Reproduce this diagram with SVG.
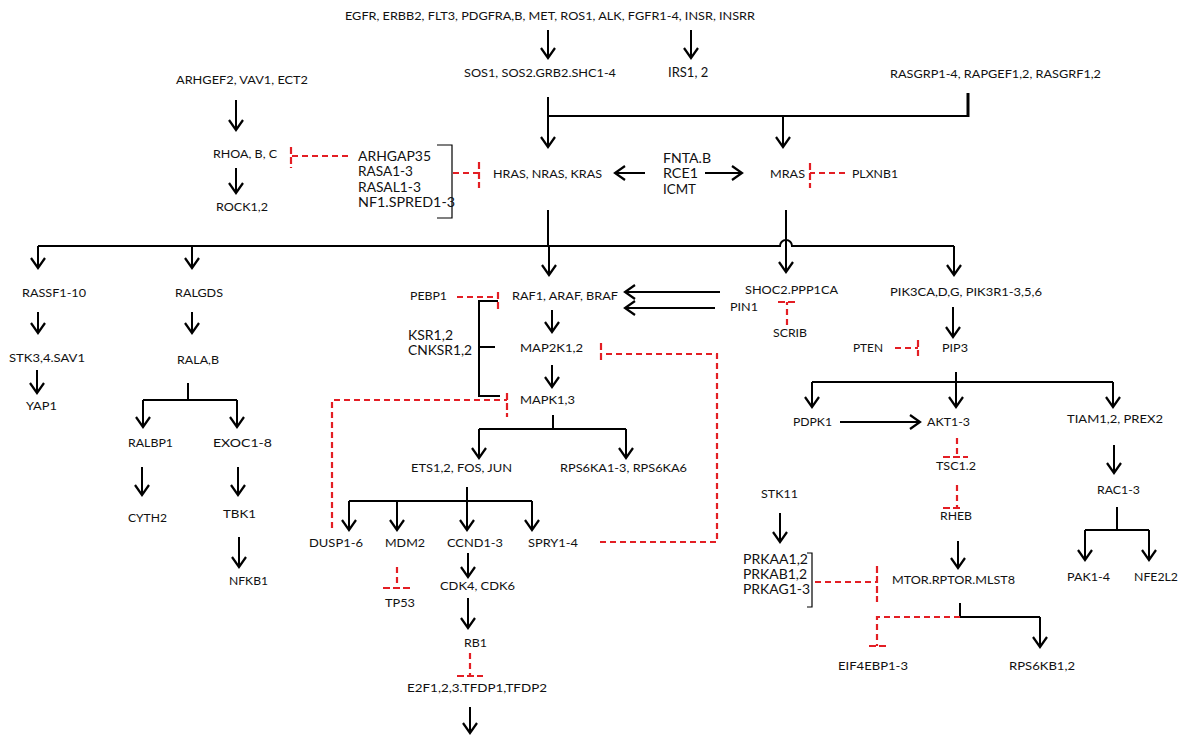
<svg xmlns="http://www.w3.org/2000/svg" width="1183" height="736" viewBox="0 0 1183 736">
<defs>
<marker id="arr" markerUnits="userSpaceOnUse" markerWidth="24" markerHeight="24" refX="0" refY="0" viewBox="-12 -12 24 24" orient="auto" overflow="visible">
<path d="M-10,-7 L0,0 L-10,7" fill="none" stroke="#000" stroke-width="2.2" stroke-linejoin="miter"/>
</marker>
<style>
text{font-family:Lato,"Liberation Sans",sans-serif;font-size:12px;fill:#111;dominant-baseline:central}
.L{font-size:14px}
.c{fill:none;stroke:#000;stroke-width:2}
.a{fill:none;stroke:#000;stroke-width:2;marker-end:url(#arr)}
.b{fill:none;stroke:#000;stroke-width:1.2}
.r{fill:none;stroke:#e31e24;stroke-width:2.2;stroke-dasharray:6 4}
.t{fill:none;stroke:#e31e24;stroke-width:2.2;stroke-dasharray:7 3}
</style>
</defs>
<rect width="1183" height="736" fill="#fff"/>

<g id="connectors">
<line class="a" x1="548" y1="30" x2="548" y2="58"/>
<line class="a" x1="691" y1="30" x2="691" y2="58"/>
<path class="c" d="M548,97 V116 H968"/>
<line class="a" x1="548" y1="116" x2="548" y2="147"/>
<line x1="968" y1="93" x2="968" y2="117" stroke="#000" stroke-width="3"/>
<line class="a" x1="783" y1="116" x2="783" y2="147"/>
<line class="a" x1="236" y1="100" x2="236" y2="130"/>
<line class="a" x1="236" y1="168" x2="236" y2="193"/>
<line class="a" x1="645" y1="173" x2="615" y2="173"/>
<line class="a" x1="705" y1="173" x2="742" y2="173"/>
<line class="c" x1="548" y1="210" x2="548" y2="246"/>
<path class="c" d="M38,246 H780 a6,6 0 0 1 12,0 H954"/>
<line class="c" x1="786" y1="210" x2="786" y2="240"/>
<line class="a" x1="786" y1="240" x2="786" y2="272"/>
<line class="a" x1="38" y1="246" x2="38" y2="268"/>
<line class="a" x1="192" y1="246" x2="192" y2="268"/>
<line class="a" x1="549" y1="246" x2="549" y2="275"/>
<line class="a" x1="954" y1="246" x2="954" y2="275"/>
<line class="a" x1="38" y1="312" x2="38" y2="333"/>
<line class="a" x1="37" y1="370" x2="37" y2="393"/>
<line class="a" x1="192" y1="312" x2="192" y2="333"/>
<path class="c" d="M188,383 V400 M143,400 H237"/>
<line class="a" x1="143" y1="400" x2="143" y2="427"/>
<line class="a" x1="237" y1="400" x2="237" y2="427"/>
<line class="a" x1="142" y1="467" x2="142" y2="495"/>
<line class="a" x1="238" y1="467" x2="238" y2="495"/>
<line class="a" x1="239" y1="537" x2="239" y2="567"/>
<path class="c" d="M498,301 H479 V396 H500 M479,347 H495"/>
<line class="a" x1="552" y1="310" x2="552" y2="332"/>
<line class="a" x1="552" y1="365" x2="552" y2="387"/>
<path class="c" d="M553,415 V429 M479,429 H626"/>
<line class="a" x1="479" y1="429" x2="479" y2="458"/>
<line class="a" x1="626" y1="429" x2="626" y2="458"/>
<path class="c" d="M467,487 V501 M349,501 H532"/>
<line class="a" x1="349" y1="501" x2="349" y2="530"/>
<line class="a" x1="397" y1="501" x2="397" y2="530"/>
<line class="a" x1="467" y1="501" x2="467" y2="530"/>
<line class="a" x1="532" y1="501" x2="532" y2="530"/>
<line class="a" x1="468" y1="553" x2="468" y2="577"/>
<line class="a" x1="468" y1="598" x2="468" y2="628"/>
<line class="a" x1="470" y1="707" x2="470" y2="733"/>
<line class="a" x1="720" y1="292" x2="625" y2="292"/>
<line class="a" x1="715" y1="308" x2="625" y2="308"/>
<line class="a" x1="953" y1="307" x2="953" y2="337"/>
<path class="c" d="M956,372 V382 M812,382 H1113"/>
<line class="a" x1="812" y1="382" x2="812" y2="407"/>
<line class="a" x1="956" y1="382" x2="956" y2="407"/>
<line class="a" x1="1113" y1="382" x2="1113" y2="407"/>
<line class="a" x1="840" y1="422" x2="920" y2="422"/>
<line class="a" x1="1114" y1="445" x2="1114" y2="473"/>
<path class="c" d="M1117,507 V530 M1085,530 H1149"/>
<line class="a" x1="1085" y1="530" x2="1085" y2="560"/>
<line class="a" x1="1149" y1="530" x2="1149" y2="560"/>
<line class="a" x1="780" y1="513" x2="780" y2="542"/>
<line class="a" x1="958" y1="541" x2="958" y2="568"/>
<path class="c" d="M960,603 V617 H1040"/>
<line class="a" x1="1040" y1="617" x2="1040" y2="647"/>
<path class="b" d="M437,145 H452 V218 H437"/>
<path class="b" d="M807,553 H812 V607 H807"/>

<line class="r" x1="348" y1="156" x2="291" y2="156"/>
<line class="t" x1="291" y1="147" x2="291" y2="168"/>
<line class="r" x1="453" y1="173" x2="479" y2="173"/>
<line class="t" x1="479" y1="162" x2="479" y2="188"/>
<line class="r" x1="845" y1="173" x2="810" y2="173"/>
<line class="t" x1="810" y1="163" x2="810" y2="188"/>
<line class="r" x1="457" y1="297" x2="498" y2="297"/>
<line class="t" x1="498" y1="292" x2="498" y2="312"/>
<line class="r" x1="787" y1="325" x2="787" y2="302"/>
<line class="t" x1="778" y1="302" x2="797" y2="302"/>
<line class="r" x1="895" y1="348" x2="918" y2="348"/>
<line class="t" x1="918" y1="340" x2="918" y2="356"/>
<path class="r" d="M600,542 H717 V354 H601"/>
<line class="t" x1="601" y1="343" x2="601" y2="363"/>
<path class="r" d="M332,528 V400 H507"/>
<line class="t" x1="507" y1="393" x2="507" y2="417"/>
<line class="r" x1="397" y1="567" x2="397" y2="588"/>
<line class="t" x1="383" y1="588" x2="410" y2="588"/>
<line class="r" x1="470" y1="653" x2="470" y2="676"/>
<line class="t" x1="457" y1="676" x2="483" y2="676"/>
<line class="r" x1="957" y1="438" x2="957" y2="457"/>
<line class="t" x1="943" y1="457" x2="968" y2="457"/>
<line class="r" x1="957" y1="485" x2="957" y2="508"/>
<line class="t" x1="943" y1="508" x2="962" y2="508"/>
<line class="r" x1="815" y1="582" x2="877" y2="582"/>
<line class="t" x1="877" y1="566" x2="877" y2="602"/>
<path class="r" d="M960,617 H877 V646"/>
<line class="t" x1="869" y1="646" x2="887" y2="646"/>
</g>

<g id="n-rtk"><text x="345" y="15" textLength="410" lengthAdjust="spacingAndGlyphs">EGFR, ERBB2, FLT3, PDGFRA,B, MET, ROS1, ALK, FGFR1-4, INSR, INSRR</text></g>
<g id="n-sos"><text x="464" y="72" textLength="152" lengthAdjust="spacingAndGlyphs">SOS1, SOS2.GRB2.SHC1-4</text></g>
<g id="n-irs"><text x="668" y="72" style="font-size:13px">IRS1, 2</text></g>
<g id="n-rasgrp"><text x="890" y="73" textLength="211" lengthAdjust="spacingAndGlyphs">RASGRP1-4, RAPGEF1,2, RASGRF1,2</text></g>
<g id="n-arhgef"><text x="176" y="79" textLength="132" lengthAdjust="spacingAndGlyphs">ARHGEF2, VAV1, ECT2</text></g>
<g id="n-rho"><text x="213" y="153" textLength="64" lengthAdjust="spacingAndGlyphs">RHOA, B, C</text></g>
<g id="n-rock"><text x="216" y="206" textLength="52" lengthAdjust="spacingAndGlyphs">ROCK1,2</text></g>
<g id="n-gap">
<text class="L" x="358" y="155" textLength="73" lengthAdjust="spacingAndGlyphs">ARHGAP35</text>
<text class="L" x="358" y="170" textLength="55" lengthAdjust="spacingAndGlyphs">RASA1-3</text>
<text class="L" x="358" y="186" textLength="63" lengthAdjust="spacingAndGlyphs">RASAL1-3</text>
<text class="L" x="358" y="201" textLength="97" lengthAdjust="spacingAndGlyphs">NF1.SPRED1-3</text>
</g>
<g id="n-ras"><text x="493" y="173" textLength="109" lengthAdjust="spacingAndGlyphs">HRAS, NRAS, KRAS</text></g>
<g id="n-fnta">
<text class="L" x="663" y="157" textLength="48" lengthAdjust="spacingAndGlyphs">FNTA.B</text>
<text class="L" x="663" y="172" textLength="35" lengthAdjust="spacingAndGlyphs">RCE1</text>
<text class="L" x="663" y="188" textLength="33" lengthAdjust="spacingAndGlyphs">ICMT</text>
</g>
<g id="n-mras"><text x="770" y="173" textLength="35" lengthAdjust="spacingAndGlyphs">MRAS</text></g>
<g id="n-plxnb1"><text x="852" y="173" textLength="46" lengthAdjust="spacingAndGlyphs">PLXNB1</text></g>
<g id="n-rassf"><text x="22" y="292" textLength="64" lengthAdjust="spacingAndGlyphs">RASSF1-10</text></g>
<g id="n-ralgds"><text x="175" y="292" textLength="48" lengthAdjust="spacingAndGlyphs">RALGDS</text></g>
<g id="n-stk3"><text x="9" y="357" textLength="76" lengthAdjust="spacingAndGlyphs">STK3,4.SAV1</text></g>
<g id="n-rala"><text x="177" y="359" textLength="42" lengthAdjust="spacingAndGlyphs">RALA,B</text></g>
<g id="n-yap1"><text x="26" y="405" textLength="31" lengthAdjust="spacingAndGlyphs">YAP1</text></g>
<g id="n-ralbp1"><text x="128" y="442" textLength="45" lengthAdjust="spacingAndGlyphs">RALBP1</text></g>
<g id="n-exoc"><text x="213" y="442" textLength="59" lengthAdjust="spacingAndGlyphs">EXOC1-8</text></g>
<g id="n-cyth2"><text x="128" y="517" textLength="39" lengthAdjust="spacingAndGlyphs">CYTH2</text></g>
<g id="n-tbk1"><text x="223" y="513" textLength="33" lengthAdjust="spacingAndGlyphs">TBK1</text></g>
<g id="n-nfkb1"><text x="229" y="580" textLength="39" lengthAdjust="spacingAndGlyphs">NFKB1</text></g>
<g id="n-pebp1"><text x="410" y="295" textLength="37" lengthAdjust="spacingAndGlyphs">PEBP1</text></g>
<g id="n-raf"><text x="512" y="295" textLength="106" lengthAdjust="spacingAndGlyphs">RAF1, ARAF, BRAF</text></g>
<g id="n-ksr">
<text class="L" x="408" y="334" textLength="45" lengthAdjust="spacingAndGlyphs">KSR1,2</text>
<text class="L" x="408" y="349" textLength="64" lengthAdjust="spacingAndGlyphs">CNKSR1,2</text>
</g>
<g id="n-map2k"><text x="520" y="347" textLength="63" lengthAdjust="spacingAndGlyphs">MAP2K1,2</text></g>
<g id="n-mapk"><text x="520" y="399" textLength="55" lengthAdjust="spacingAndGlyphs">MAPK1,3</text></g>
<g id="n-ets"><text x="411" y="467" textLength="101" lengthAdjust="spacingAndGlyphs">ETS1,2, FOS, JUN</text></g>
<g id="n-rps6ka"><text x="560" y="467" textLength="127" lengthAdjust="spacingAndGlyphs">RPS6KA1-3, RPS6KA6</text></g>
<g id="n-shoc2"><text x="745" y="289" textLength="93" lengthAdjust="spacingAndGlyphs">SHOC2.PPP1CA</text></g>
<g id="n-pin1"><text x="730" y="306" textLength="28" lengthAdjust="spacingAndGlyphs">PIN1</text></g>
<g id="n-scrib"><text x="773" y="332" textLength="34" lengthAdjust="spacingAndGlyphs">SCRIB</text></g>
<g id="n-pik3"><text x="890" y="291" textLength="152" lengthAdjust="spacingAndGlyphs">PIK3CA,D,G, PIK3R1-3,5,6</text></g>
<g id="n-pten"><text x="853" y="347" textLength="30" lengthAdjust="spacingAndGlyphs">PTEN</text></g>
<g id="n-pip3"><text x="942" y="347" textLength="26" lengthAdjust="spacingAndGlyphs">PIP3</text></g>
<g id="n-pdpk1"><text x="793" y="421" textLength="39" lengthAdjust="spacingAndGlyphs">PDPK1</text></g>
<g id="n-akt"><text x="927" y="421" textLength="43" lengthAdjust="spacingAndGlyphs">AKT1-3</text></g>
<g id="n-tiam"><text x="1067" y="418" textLength="96" lengthAdjust="spacingAndGlyphs">TIAM1,2, PREX2</text></g>
<g id="n-tsc"><text x="936" y="465" textLength="40" lengthAdjust="spacingAndGlyphs">TSC1.2</text></g>
<g id="n-rac"><text x="1097" y="489" textLength="43" lengthAdjust="spacingAndGlyphs">RAC1-3</text></g>
<g id="n-stk11"><text x="761" y="493" textLength="37" lengthAdjust="spacingAndGlyphs">STK11</text></g>
<g id="n-rheb"><text x="940" y="515" textLength="32" lengthAdjust="spacingAndGlyphs">RHEB</text></g>
<g id="n-dusp"><text x="309" y="542" textLength="54" lengthAdjust="spacingAndGlyphs">DUSP1-6</text></g>
<g id="n-mdm2"><text x="385" y="542" textLength="40" lengthAdjust="spacingAndGlyphs">MDM2</text></g>
<g id="n-ccnd"><text x="447" y="542" textLength="56" lengthAdjust="spacingAndGlyphs">CCND1-3</text></g>
<g id="n-spry"><text x="528" y="542" textLength="50" lengthAdjust="spacingAndGlyphs">SPRY1-4</text></g>
<g id="n-prka">
<text class="L" x="743" y="558" textLength="65" lengthAdjust="spacingAndGlyphs">PRKAA1,2</text>
<text class="L" x="743" y="573" textLength="64" lengthAdjust="spacingAndGlyphs">PRKAB1,2</text>
<text class="L" x="743" y="588" textLength="67" lengthAdjust="spacingAndGlyphs">PRKAG1-3</text>
</g>
<g id="n-pak"><text x="1067" y="576" textLength="43" lengthAdjust="spacingAndGlyphs">PAK1-4</text></g>
<g id="n-nfe2l2"><text x="1134" y="576" textLength="44" lengthAdjust="spacingAndGlyphs">NFE2L2</text></g>
<g id="n-mtor"><text x="892" y="579" textLength="123" lengthAdjust="spacingAndGlyphs">MTOR.RPTOR.MLST8</text></g>
<g id="n-cdk"><text x="440" y="585" textLength="75" lengthAdjust="spacingAndGlyphs">CDK4, CDK6</text></g>
<g id="n-tp53"><text x="385" y="602" textLength="30" lengthAdjust="spacingAndGlyphs">TP53</text></g>
<g id="n-rb1"><text x="464" y="642" textLength="23" lengthAdjust="spacingAndGlyphs">RB1</text></g>
<g id="n-eif4ebp"><text x="838" y="665" textLength="70" lengthAdjust="spacingAndGlyphs">EIF4EBP1-3</text></g>
<g id="n-rps6kb"><text x="1009" y="665" textLength="66" lengthAdjust="spacingAndGlyphs">RPS6KB1,2</text></g>
<g id="n-e2f"><text x="407" y="687" textLength="140" lengthAdjust="spacingAndGlyphs">E2F1,2,3.TFDP1,TFDP2</text></g>
</svg>
